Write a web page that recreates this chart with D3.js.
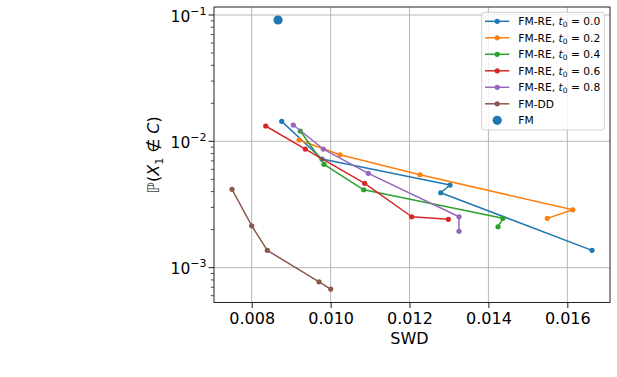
<!DOCTYPE html>
<html>
<head>
<meta charset="utf-8">
<script src="https://cdn.jsdelivr.net/npm/d3@7"></script>
<style>
  body { margin: 0; background: #fff; }
  text { font-family: "DejaVu Sans", sans-serif; }
</style>
</head>
<body>
<script>
// series values: [SWD, P(X1 not in C)]
var fmRe00 = [[0.00876, 0.01440], [0.009782, 0.007244], [0.013027, 0.004508], [0.012791, 0.003917], [0.016626, 0.001371]];
var fmRe02 = [[0.009199, 0.01024], [0.010238, 0.007832], [0.012266, 0.005439], [0.016137, 0.002873], [0.015493, 0.002457]];
var fmRe04 = [[0.009232, 0.01207], [0.009833, 0.006573], [0.010839, 0.004137], [0.01437, 0.002457], [0.014243, 0.002108]];
var fmRe06 = [[0.008355, 0.01322], [0.009359, 0.00869], [0.010864, 0.00465], [0.012056, 0.002529], [0.012984, 0.002413]];
var fmRe08 = [[0.009055, 0.01346], [0.009815, 0.00869], [0.010956, 0.005579], [0.013255, 0.002529], [0.013255, 0.001938]];
var fmDD = [[0.007501, 0.004169], [0.008, 0.002147], [0.008395, 0.001371], [0.009706, 0.000773], [0.010003, 0.000677]];
var fmPoint = [[0.008667, 0.0913]];

var seriesNames = ["0.0", "0.2", "0.4", "0.6", "0.8"];
var colors = ["#1f77b4", "#ff7f0e", "#2ca02c", "#d62728", "#9467bd", "#8c564b"];
var xTicks = [0.008, 0.010, 0.012, 0.014, 0.016];
var yTicks = [1e-3, 1e-2, 1e-1];
var yTickExp = ["\u22123", "\u22122", "\u22121"];

var series = [fmRe00, fmRe02, fmRe04, fmRe06, fmRe08, fmDD];

var svg = d3.select("body").append("svg")
    .attr("width", 617)
    .attr("height", 377),
    margin = {top: 7, left: 214},
    width = 396,
    height = 295.5,
    g = svg.append("g").attr("transform", "translate(" + margin.left + "," + margin.top + ")");

var x = d3.scaleLinear()
    .domain([0.007044, 0.017082])
    .range([0, width]);

var y = d3.scaleLog()
    .domain([5.3e-4, 0.1157])
    .range([height, 0]);

// grid
g.append("g").selectAll("line")
    .data(xTicks)
  .enter().append("line")
    .attr("x1", function(d) { return x(d); })
    .attr("x2", function(d) { return x(d); })
    .attr("y1", 0)
    .attr("y2", height)
    .attr("stroke", "#b0b0b0")
    .attr("stroke-width", 0.9);

g.append("g").selectAll("line")
    .data(yTicks)
  .enter().append("line")
    .attr("x1", 0)
    .attr("x2", width)
    .attr("y1", function(d) { return y(d); })
    .attr("y2", function(d) { return y(d); })
    .attr("stroke", "#b0b0b0")
    .attr("stroke-width", 0.9);

// x axis
var xAxis = g.append("g")
    .attr("transform", "translate(0," + height + ")")
    .call(d3.axisBottom(x).tickValues(xTicks).tickFormat(d3.format(".3f")).tickSize(5.5).tickPadding(4.6));
xAxis.select(".domain").remove();
xAxis.selectAll("text").attr("font-size", 16).attr("font-family", "DejaVu Sans").attr("fill", "#000");
xAxis.selectAll("line").attr("stroke", "#000").attr("stroke-width", 0.9);

// y minor ticks
var minor = [];
[1e-4, 1e-3, 1e-2].forEach(function(base) {
  for (var k = 2; k <= 9; k++) {
    var v = base * k;
    if (v >= y.domain()[0] && v <= y.domain()[1]) minor.push(v);
  }
});
g.append("g").selectAll("line")
    .data(minor)
  .enter().append("line")
    .attr("x1", -3.2)
    .attr("x2", 0)
    .attr("y1", function(d) { return y(d); })
    .attr("y2", function(d) { return y(d); })
    .attr("stroke", "#000")
    .attr("stroke-width", 0.7);

// y axis major ticks with 10^n labels
var yAxis = g.append("g");
yAxis.selectAll("line")
    .data(yTicks)
  .enter().append("line")
    .attr("x1", -5.5)
    .attr("x2", 0)
    .attr("y1", function(d) { return y(d); })
    .attr("y2", function(d) { return y(d); })
    .attr("stroke", "#000")
    .attr("stroke-width", 0.9);

var yLab = yAxis.selectAll("text")
    .data(yTicks)
  .enter().append("text")
    .attr("x", -7.5)
    .attr("y", function(d) { return y(d) + 6.5; })
    .attr("text-anchor", "end")
    .attr("font-size", 15.5)
    .attr("fill", "#000");
yLab.append("tspan").text("10");
yLab.append("tspan")
    .attr("dy", -7)
    .attr("font-size", 11)
    .text(function(d, i) { return yTickExp[i]; });

// frame
g.append("rect")
    .attr("width", width)
    .attr("height", height)
    .attr("fill", "none")
    .attr("stroke", "#222")
    .attr("stroke-width", 1);

// axis labels
svg.append("text")
    .attr("x", margin.left + x(0.012))
    .attr("y", 344)
    .attr("text-anchor", "middle")
    .attr("font-size", 16)
    .text("SWD");

var yl = svg.append("text")
    .attr("transform", "translate(159," + (margin.top + height / 2) + ") rotate(-90)")
    .attr("text-anchor", "middle")
    .attr("font-size", 16);
yl.append("tspan").attr("fill", "#444").text("\u2119");
yl.append("tspan").text("(");
yl.append("tspan").attr("font-style", "italic").text("X");
yl.append("tspan").attr("font-size", 11).attr("dy", 3.5).text("1");
yl.append("tspan").attr("dy", -3.5).text(" \u2209 ");
yl.append("tspan").attr("font-style", "italic").text("C");
yl.append("tspan").text(")");

// lines
var line = d3.line()
    .x(function(d) { return x(d[0]); })
    .y(function(d) { return y(d[1]); });

series.forEach(function(s, i) {
  g.append("path")
      .datum(s)
      .attr("fill", "none")
      .attr("stroke", colors[i])
      .attr("stroke-width", 1.5)
      .attr("stroke-linejoin", "round")
      .attr("d", line);

  g.append("g").selectAll("circle")
      .data(s)
    .enter().append("circle")
      .attr("cx", function(d) { return x(d[0]); })
      .attr("cy", function(d) { return y(d[1]); })
      .attr("r", 2.6)
      .attr("fill", colors[i]);
});

g.selectAll(".fm")
    .data(fmPoint)
  .enter().append("circle")
    .attr("class", "fm")
    .attr("cx", function(d) { return x(d[0]); })
    .attr("cy", function(d) { return y(d[1]); })
    .attr("r", 4.6)
    .attr("fill", "#1f77b4");

// legend
var legend = svg.append("g").attr("transform", "translate(481.7,12.3)");
legend.append("rect")
    .attr("width", 122.6)
    .attr("height", 117.7)
    .attr("rx", 2.5)
    .attr("fill", "#fff")
    .attr("fill-opacity", 0.8)
    .attr("stroke", "#ccc")
    .attr("stroke-width", 0.9);

var rowY = function(i) { return 9 + i * 16.5; };

var entries = legend.selectAll(".entry")
    .data(colors)
  .enter().append("g")
    .attr("class", "entry")
    .attr("transform", function(d, i) { return "translate(0," + rowY(i) + ")"; });

entries.append("line")
    .attr("x1", 3.3)
    .attr("x2", 27.6)
    .attr("stroke", function(d) { return d; })
    .attr("stroke-width", 1.5);
entries.append("circle")
    .attr("cx", 15.5)
    .attr("r", 2.6)
    .attr("fill", function(d) { return d; });

var labels = entries.append("text")
    .attr("x", 36.6)
    .attr("y", 3.8)
    .attr("font-size", 10.7)
    .attr("fill", "#000");

labels.each(function(d, i) {
  var t = d3.select(this);
  if (i < seriesNames.length) {
    t.append("tspan").text("FM-RE, ");
    t.append("tspan").attr("font-style", "italic").text("t");
    t.append("tspan").attr("font-size", 7.5).attr("dy", 2.2).text("0");
    t.append("tspan").attr("dy", -2.2).text(" = " + seriesNames[i]);
  } else {
    t.text("FM-DD");
  }
});

var fmEntry = legend.append("g").attr("transform", "translate(0," + rowY(6) + ")");
fmEntry.append("circle")
    .attr("cx", 15.5)
    .attr("r", 4.6)
    .attr("fill", "#1f77b4");
fmEntry.append("text")
    .attr("x", 36.6)
    .attr("y", 3.8)
    .attr("font-size", 10.7)
    .text("FM");
</script>
</body>
</html>
